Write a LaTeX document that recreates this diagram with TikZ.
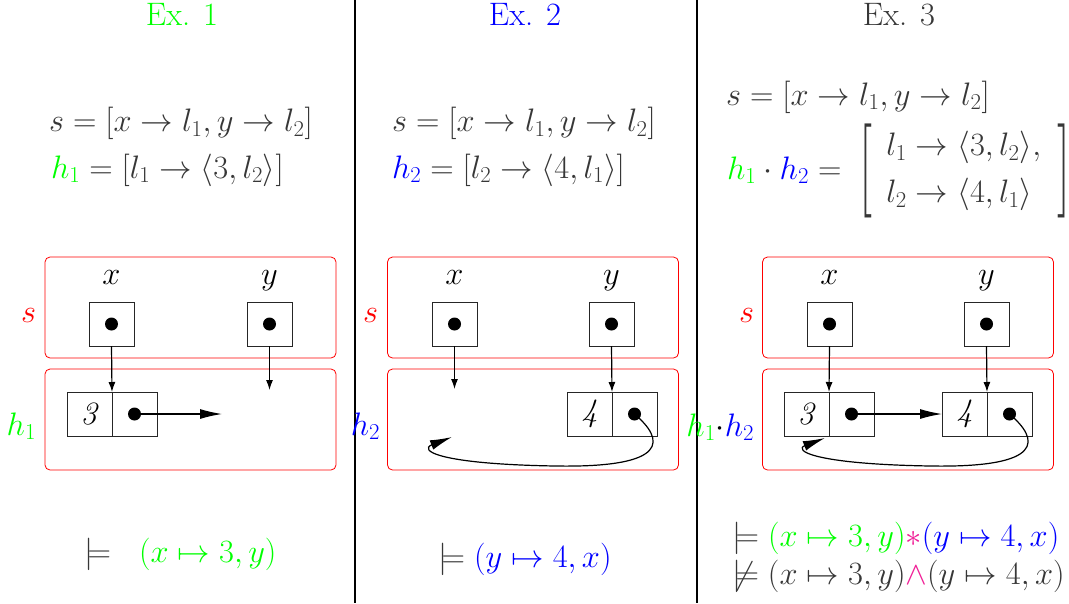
\RequirePackage{fix-cm}
\documentclass[tikz,border=0pt]{standalone}
\usetikzlibrary{arrows.meta,calc}
\definecolor{tgreen}{RGB}{0,255,0}
\definecolor{tblue}{RGB}{0,0,255}
\definecolor{tred}{RGB}{255,0,0}
\definecolor{tgray}{RGB}{55,55,55}
\definecolor{tmag}{RGB}{240,30,150}
\newcommand{\bigbrk}[1]{\raisebox{-15.4pt}{\scalebox{1.6}[2.9]{$#1$}}}
\tikzset{
  every node/.style={font=\fontsize{32.5}{39}\selectfont, inner sep=0pt, outer sep=0pt},
  heap/.style={draw=tred, rounded corners=5pt, line width=0.8pt, minimum width=291pt, minimum height=101pt},
  cell/.style={draw=black!85, line width=0.8pt, minimum width=45pt, minimum height=44pt},
  ptdot/.style={circle, fill=black, minimum size=13pt},
  ptr/.style={line width=1.2pt, -{Latex[length=10pt,width=7pt]}},
  lptr/.style={line width=1.2pt, -{Latex[length=22pt,width=10pt]}},
  divider/.style={line width=1.6pt},
  title/.style={anchor=base},
  txt/.style={text=tgray, anchor=base west},
  lab/.style={anchor=base east},
  vlab/.style={anchor=base}
}
\begin{document}
\begin{tikzpicture}[x=1pt,y=-1pt]
\useasboundingbox (0,0) rectangle (1069,603);
\draw[divider] (355,0) -- (355,603);
\draw[divider] (697,0) -- (697,603);

% titles
\node[title, text=tgreen] (t1) at (182,25.5) {Ex. 1};
\node[title, text=tblue] (t2) at (525,25.5) {Ex. 2};
\node[title, text=tgray] (t3) at (899,25.5) {Ex. 3};

% formulas
\node[txt] (f1s) at (49,131.5) {$s=[x\to l_1,y\to l_2]$};
\node[txt] (f1h) at (51,178) {${\color{tgreen}h_1}=[l_1\to\langle 3,l_2\rangle]$};
\node[txt] (f2s) at (392,131.5) {$s=[x\to l_1,y\to l_2]$};
\node[txt] (f2h) at (392,178) {${\color{tblue}h_2}=[l_2\to\langle 4,l_1\rangle]$};
\node[txt] (f3s) at (726,105) {$s=[x\to l_1,y\to l_2]$};
\node[txt] (f3h) at (727,179) {${\color{tgreen}h_1}\cdot{\color{tblue}h_2}=\;\bigbrk{[}\hspace{14pt}\begin{array}{@{}l@{}}l_1\to\langle 3,l_2\rangle,\\[8pt] l_2\to\langle 4,l_1\rangle\end{array}\hspace{16pt}\bigbrk{]}$};

% ---------- panel 1 ----------
\node[heap] (S1) at (190.5,307.5) {};
\node[heap] (H1) at (190.5,419.5) {};
\node[lab, text=tred] (ls1) at (36,322) {$s$};
\node[lab, text=tgreen] (lh1) at (36,435) {$h_1$};
\node[vlab] (lx1) at (111.5,284) {$x$};
\node[vlab] (ly1) at (269.5,284) {$y$};
\node[cell] (xc1) at (111.5,324) {};
\node[cell] (yc1) at (269.5,324) {};
\node[ptdot] (xd1) at (xc1.center) {};
\node[ptdot] (yd1) at (yc1.center) {};
\node[cell] (c1a) at (89.5,414) {\textit{3}};
\node[cell] (c1b) at (134.5,414) {};
\node[ptdot] (d1b) at (c1b.center) {};
\coordinate (e1y) at (269.5,390);
\coordinate (e1r) at (222,414);
\draw[ptr] (xc1.south) -- (c1a.north east);
\draw[ptr] (yc1.south) -- (e1y);
\draw[lptr] (d1b.center) -- (e1r);

% ---------- panel 2 ----------
\node[heap] (S2) at (533,307.5) {};
\node[heap] (H2) at (533,419.5) {};
\node[lab, text=tred] (ls2) at (378,322) {$s$};
\node[lab, text=tblue] (lh2) at (380,435) {$h_2$};
\node[vlab] (lx2) at (454.5,284) {$x$};
\node[vlab] (ly2) at (611.5,284) {$y$};
\node[cell] (xc2) at (454.5,324) {};
\node[cell] (yc2) at (611.5,324) {};
\node[ptdot] (xd2) at (xc2.center) {};
\node[ptdot] (yd2) at (yc2.center) {};
\node[cell] (c2a) at (589.5,414) {\textit{4}};
\node[cell] (c2b) at (634.5,414) {};
\node[ptdot] (d2b) at (c2b.center) {};
\coordinate (e2x) at (454.5,389);
\coordinate (e2t) at (452,437);
\draw[ptr] (xc2.south) -- (e2x);
\draw[ptr] (yc2.south) -- (c2a.north east);
\draw[lptr] (d2b.center) .. controls ($(d2b)+(30.5,26)$) and ($(d2b)+(35.5,54)$) .. ($(d2b)+(-79.5,52)$)
  .. controls ($(d2b)+(-198,50)$) and ($(d2b)+(-216,36)$) .. (e2t);

% ---------- panel 3 ----------
\node[heap] (S3) at (908,307.5) {};
\node[heap] (H3) at (908,419.5) {};
\node[lab, text=tred] (ls3) at (754,322) {$s$};
\node[lab] (lh3) at (754,436) {${\color{tgreen}h_1}{\cdot}{\color{tblue}h_2}$};
\node[vlab] (lx3) at (829.5,284) {$x$};
\node[vlab] (ly3) at (986.5,284) {$y$};
\node[cell] (xc3) at (829.5,324) {};
\node[cell] (yc3) at (986.5,324) {};
\node[ptdot] (xd3) at (xc3.center) {};
\node[ptdot] (yd3) at (yc3.center) {};
\node[cell] (c3a) at (806.5,414) {\textit{3}};
\node[cell] (c3b) at (851.5,414) {};
\node[ptdot] (d3b) at (c3b.center) {};
\node[cell] (c4a) at (964.5,414) {\textit{4}};
\node[cell] (c4b) at (1009.5,414) {};
\node[ptdot] (d4b) at (c4b.center) {};
\coordinate (e3t) at ($(c3a.south east)+(-4,2)$);
\draw[ptr] (xc3.south) -- (c3a.north east);
\draw[ptr] (yc3.south) -- (c4a.north east);
\draw[lptr] (d3b.center) -- (c4a.west);
\draw[lptr] (d4b.center) .. controls ($(d4b)+(30.5,26)$) and ($(d4b)+(35.5,54)$) .. ($(d4b)+(-79.5,52)$)
  .. controls ($(d4b)+(-198,50)$) and ($(d4b)+(-216,36)$) .. (e3t);

% ---------- bottom ----------
\node[txt] (m1) at (84,562) {$\models$};
\node[txt] (m1f) at (139,562) {$\color{tgreen}(x\mapsto 3,y)$};
\node[txt] (m2) at (438,567) {$\models{\color{tblue}(y\mapsto 4,x)}$};
\node[txt] (m3a) at (732,546) {$\models{\color{tgreen}(x\mapsto 3,y)}{\color{tmag}*}{\color{tblue}(y\mapsto 4,x)}$};
\node[txt] (m3b) at (732,584) {$\not\models(x\mapsto 3,y){\color{tmag}\wedge}(y\mapsto 4,x)$};
\end{tikzpicture}
\end{document}
